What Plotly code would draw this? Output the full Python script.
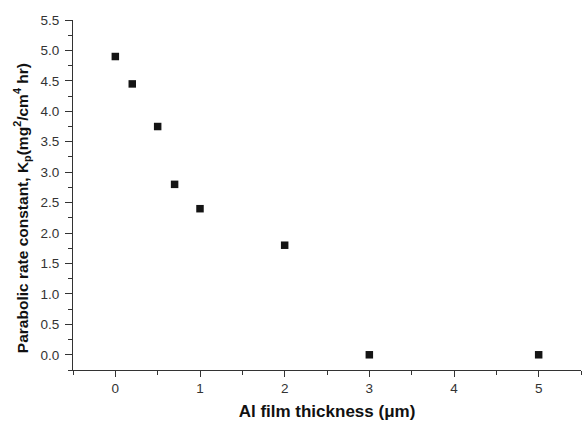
import plotly.graph_objects as go

# Al film thickness (um) and parabolic rate constant Kp (mg^2/cm^4 hr)
thickness = [0, 0.2, 0.5, 0.7, 1, 2, 3, 5]
kp = [4.9, 4.45, 3.75, 2.8, 2.4, 1.8, 0.0, 0.0]

x_ticks = [0, 1, 2, 3, 4, 5]
y_ticks = [0, 0.5, 1, 1.5, 2, 2.5, 3, 3.5, 4, 4.5, 5, 5.5]
y_tick_text = ["0.0", "0.5", "1.0", "1.5", "2.0", "2.5", "3.0", "3.5", "4.0", "4.5", "5.0", "5.5"]

font = "Liberation Sans, Arial, sans-serif"

fig = go.Figure(
    go.Scatter(
        x=thickness,
        y=kp,
        mode="markers",
        marker=dict(symbol="square", size=7.5, color="#141414"),
    )
)

fig.update_layout(
    width=583,
    height=421,
    margin=dict(l=73, r=2, t=20, b=51),
    paper_bgcolor="white",
    plot_bgcolor="white",
    showlegend=False,
    font=dict(family=font, color="#222222"),
)

fig.update_xaxes(
    range=[-0.5, 5.5],
    tickmode="array",
    tickvals=x_ticks,
    ticktext=[str(v) for v in x_ticks],
    ticks="outside",
    ticklen=6,
    tickwidth=1,
    tickcolor="#333333",
    minor=dict(dtick=0.5, ticks="outside", ticklen=4, tickcolor="#333333", showgrid=False),
    showline=True,
    linecolor="#333333",
    linewidth=1,
    showgrid=False,
    zeroline=False,
    tickfont=dict(size=13.5, family=font, color="#333333"),
    title=dict(
        text="<b>Al film thickness (μm)</b>",
        font=dict(size=17, family=font, color="#111111"),
        standoff=10,
    ),
)

fig.update_yaxes(
    range=[-0.25, 5.5],
    tickmode="array",
    tickvals=y_ticks,
    ticktext=y_tick_text,
    ticks="outside",
    ticklen=7,
    tickwidth=1,
    tickcolor="#333333",
    ticklabelstandoff=3,
    minor=dict(dtick=0.25, ticks="outside", ticklen=4, tickcolor="#333333", showgrid=False),
    showline=True,
    linecolor="#333333",
    linewidth=1,
    showgrid=False,
    zeroline=False,
    tickfont=dict(size=13.5, family=font, color="#333333"),
)

# y-axis title, set a little below the plot-area centre
fig.add_annotation(
    text="<b>Parabolic rate constant, K<sub>p</sub>(mg<sup>2</sup>/cm<sup>4</sup> hr)</b>",
    textangle=-90,
    xref="paper",
    yref="paper",
    x=-0.1,
    y=0.463,
    xanchor="center",
    yanchor="middle",
    showarrow=False,
    font=dict(size=15.5, family=font, color="#111111"),
)

fig.write_html("out.html")
